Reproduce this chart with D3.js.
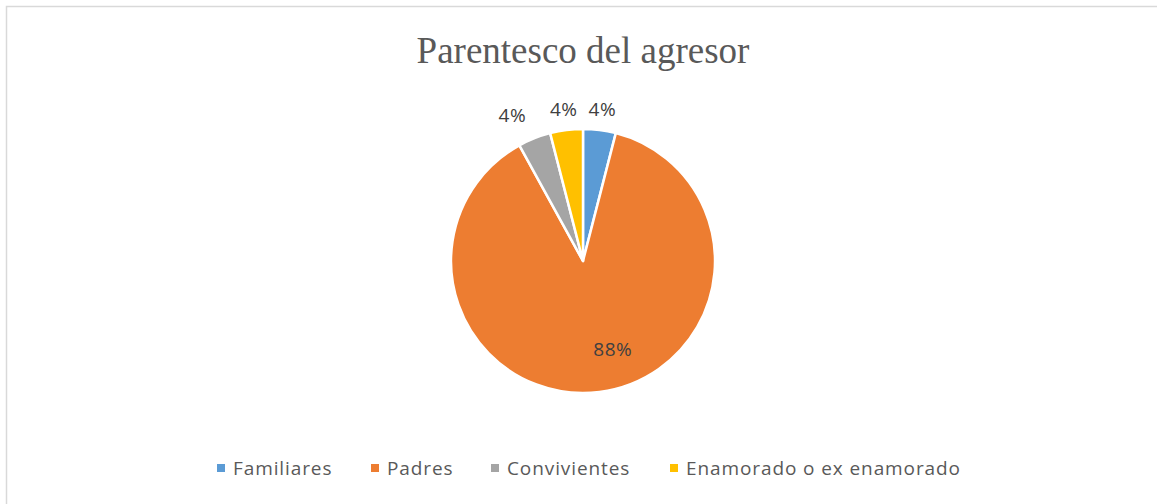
<!DOCTYPE html>
<html>
<head>
<meta charset="utf-8">
<script src="https://cdn.jsdelivr.net/npm/d3@7"></script>
<style>
  body { margin: 0; background: #fff; }
  svg { display: block; }
</style>
</head>
<body>
<div id="chart"></div>
<script>
// chart data
let categories = ["Familiares", "Padres", "Convivientes", "Enamorado o ex enamorado"];
let counts = [1, 22, 1, 1];
let colors = ["#5b9bd5", "#ed7d31", "#a5a5a5", "#ffc000"];
let titleText = "Parentesco del agresor";

let width = 1157, height = 504;
let cx = 583, cy = 261, radius = 132;

let svg = d3.select("#chart")
    .append("svg")
    .attr("width", width)
    .attr("height", height);

// outer frame (runs off the right and bottom edges)
svg.append("rect")
    .attr("x", 6.5).attr("y", 6.5)
    .attr("width", width + 10).attr("height", height + 10)
    .attr("fill", "#fff")
    .attr("stroke", "#d9d9d9")
    .attr("stroke-width", 1.5);

svg.append("text")
    .attr("x", cx)
    .attr("y", 63)
    .attr("text-anchor", "middle")
    .style("font-family", "'Liberation Serif', 'Times New Roman', serif")
    .style("font-size", "37px")
    .style("fill", "#595959")
    .text(titleText);

let data = categories.map(function (c, i) { return { name: c, value: counts[i], color: colors[i] }; });
let total = d3.sum(counts);

let pie = d3.pie().sort(null).value(function (d) { return d.value; });
let arc = d3.arc().innerRadius(0).outerRadius(radius);
let outerLabel = d3.arc().innerRadius(radius + 22).outerRadius(radius + 22);
let innerLabel = d3.arc().innerRadius(radius * 0.71).outerRadius(radius * 0.71);

let g = svg.append("g").attr("transform", "translate(" + cx + "," + cy + ")");

let arcs = pie(data);

g.selectAll("path")
    .data(arcs)
    .enter()
    .append("path")
    .attr("d", arc)
    .attr("fill", function (d) { return d.data.color; })
    .attr("stroke", "#fff")
    .attr("stroke-width", 2.5)
    .attr("stroke-linejoin", "round");

let fmt = function (d) { return Math.round(d.data.value / total * 100) + "%"; };

g.selectAll(".lbl")
    .data(arcs)
    .enter()
    .append("text")
    .attr("class", "lbl")
    .attr("transform", function (d) {
        let p;
        if (d.endAngle - d.startAngle > Math.PI) {
            p = innerLabel.centroid(d);
            p[0] += 18;
            p[1] -= 5;
        } else {
            p = outerLabel.centroid(d);
            p[1] += 1;
            // push the narrow slices a little apart, like excel's best fit
            if (d.index == 2) { p[0] -= 14; p[1] -= 3; }
        }
        return "translate(" + p + ")";
    })
    .attr("text-anchor", "middle")
    .attr("dy", "0.35em")
    .style("font-family", "'Open Sans', Calibri, sans-serif")
    .style("font-size", "19px")
    .style("letter-spacing", "0.5px")
    .style("fill", "#404040")
    .text(fmt);

// legend
let legend = svg.append("g").attr("transform", "translate(0,468)");
let xs = [217, 371, 491, 670];
let items = legend.selectAll("g")
    .data(data)
    .enter()
    .append("g")
    .attr("transform", function (d, i) { return "translate(" + xs[i] + ",0)"; });

items.append("rect")
    .attr("x", 0).attr("y", -4)
    .attr("width", 8).attr("height", 8)
    .attr("fill", function (d) { return d.color; });

items.append("text")
    .attr("x", 16)
    .attr("dy", "0.35em")
    .style("font-family", "'Open Sans', Calibri, sans-serif")
    .style("font-size", "19px")
    .style("letter-spacing", "0.9px")
    .style("fill", "#595959")
    .text(function (d) { return d.name; });
</script>
</body>
</html>
